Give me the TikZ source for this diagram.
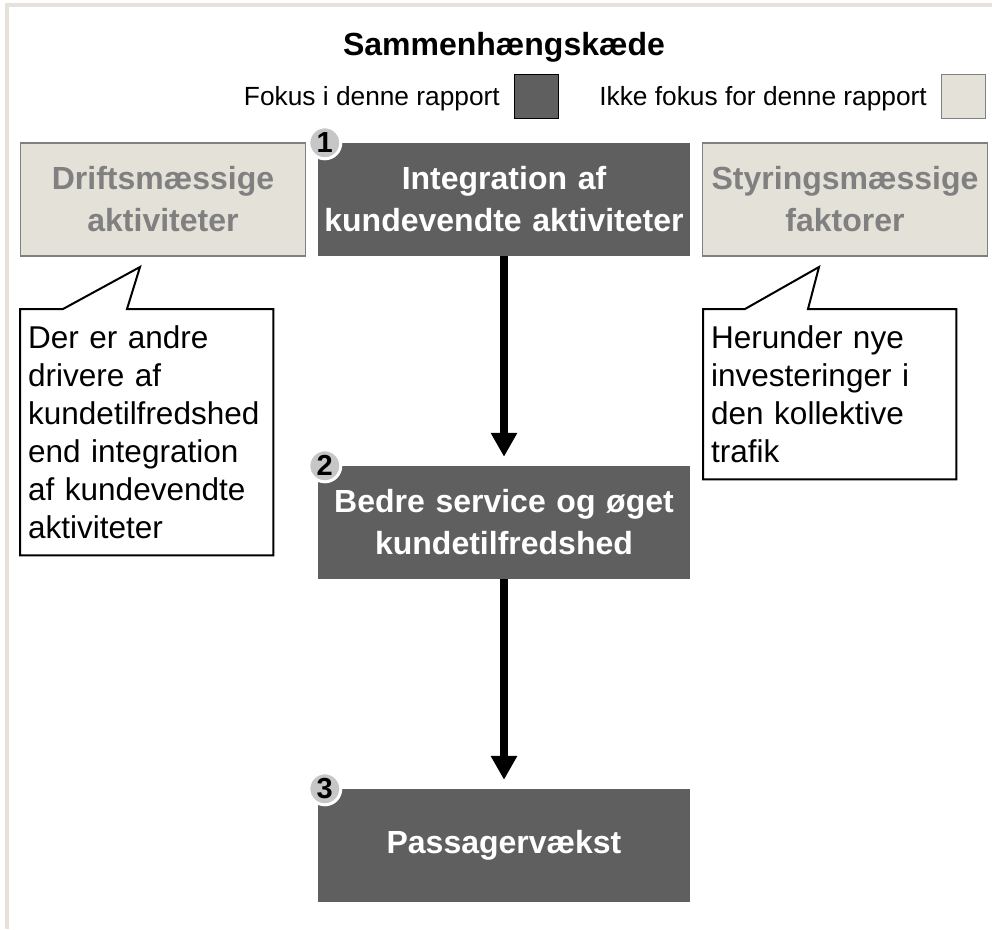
\documentclass[tikz,border=0pt]{standalone}
\usepackage{fontspec}
\setmainfont{Liberation Sans}
\usetikzlibrary{arrows.meta}
\definecolor{focusgrey}{HTML}{5F5F5F}
\definecolor{beige}{HTML}{E4E1D8}
\definecolor{framebeige}{HTML}{E6E2DA}
\definecolor{textgrey}{HTML}{808080}
\definecolor{numgrey}{HTML}{C6C6C6}
\begin{document}
\begin{tikzpicture}[x=1pt, y=-1pt,
  focus/.style={fill=focusgrey, text=white, minimum width=372pt, minimum height=113pt, text width=360pt, align=center, inner sep=0pt, font=\fontsize{32}{42}\selectfont\bfseries},
  nofocus/.style={fill=beige, draw=textgrey, line width=1.5pt, text=textgrey, minimum width=285pt, minimum height=113pt, text width=275pt, align=center, inner sep=0pt, font=\fontsize{32}{42}\selectfont\bfseries},
  note/.style={text width=237pt, align=left, inner sep=8pt, minimum width=253pt, anchor=north west, font=\fontsize{31.5}{38}\selectfont},
  notebox/.style={draw=black, line width=2pt, line join=miter},
  number/.style={shape=circle, fill=numgrey, draw=white, line width=3pt, minimum size=32pt, inner sep=0pt, font=\fontsize{29}{29}\selectfont\bfseries},
  chain/.style={-{Triangle[width=25pt,length=24pt]}, line width=8pt, shorten >=9pt},
  legend/.style={anchor=base east, inner sep=0pt, font=\fontsize{26.3}{30}\selectfont},
  legendbox/.style={line width=1.5pt, minimum width=44pt, minimum height=44pt, inner sep=0pt}
]
\useasboundingbox (0,0) rectangle (992,929);
\draw[framebeige, line width=4pt] (7,929) -- (7,5) -- (992,5);

\node[anchor=base, inner sep=0pt, font=\fontsize{32}{36}\selectfont\bfseries] (title) at (504,55) {Sammenhængskæde};
\node[legend] (lfocus) at (500,105) {Fokus i denne rapport};
\node[legendbox, fill=focusgrey, draw=black] (kfocus) at (536.5,96.5) {};
\node[legend] (lnofocus) at (927,105) {Ikke fokus for denne rapport};
\node[legendbox, fill=beige, draw=textgrey] (knofocus) at (963.5,96.5) {};

\node[nofocus] (drift) at (163,199.5) {Driftsmæssige\\aktiviteter};
\node[focus] (integ) at (504,199.5) {Integration af\\kundevendte aktiviteter};
\node[nofocus] (styr) at (845,199.5) {Styringsmæssige\\faktorer};
\node[focus] (service) at (504,522.5) {Bedre service og øget\\kundetilfredshed};
\node[focus] (vaekst) at (504,845.5) {Passagervækst};

\node[number] (n1) at ([xshift=7pt]integ.north west) {1};
\node[number] (n2) at ([xshift=7pt]service.north west) {2};
\node[number] (n3) at ([xshift=7pt]vaekst.north west) {3};

\path[chain] (integ.south) edge (service.north);
\path[chain] (service.south) edge (vaekst.north);

% callouts
\node[note, minimum height=246pt] (ndrift) at (20,309) {Der er andre\\drivere af\\kundetilfredshed\\end integration\\af kundevendte\\aktiviteter};
\coordinate (tdrift) at (140,267);
\draw[notebox] (ndrift.north west) -- ([xshift=43pt]ndrift.north west) -- (tdrift) -- ([xshift=107pt]ndrift.north west) -- (ndrift.north east) -- (ndrift.south east) -- (ndrift.south west) -- cycle;

\node[note, minimum height=170pt] (nstyr) at (703,309) {Herunder nye\\investeringer i\\den kollektive\\trafik};
\coordinate (tstyr) at (819,267);
\draw[notebox] (nstyr.north west) -- ([xshift=42pt]nstyr.north west) -- (tstyr) -- ([xshift=105pt]nstyr.north west) -- (nstyr.north east) -- (nstyr.south east) -- (nstyr.south west) -- cycle;
\end{tikzpicture}
\end{document}
